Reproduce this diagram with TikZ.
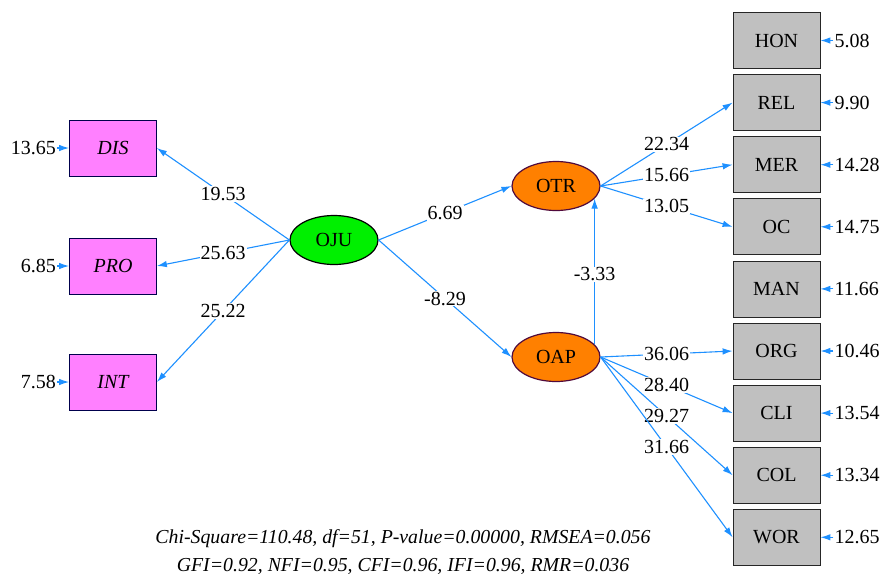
\documentclass[tikz,border=0pt]{standalone}
\usepackage{fontspec}
\setmainfont{Liberation Serif}
\usetikzlibrary{positioning, shapes.geometric, arrows.meta}

\definecolor{pathblue}{RGB}{30,144,255}
\definecolor{ojugreen}{RGB}{0,240,0}
\definecolor{latorange}{RGB}{255,128,0}
\definecolor{latborder}{RGB}{80,10,60}
\definecolor{obspink}{RGB}{255,128,255}
\definecolor{obsgray}{RGB}{192,192,192}

\begin{document}
\begin{tikzpicture}[
  x=1pt, y=-1pt,
  font=\fontsize{20}{22}\selectfont,
  latent/.style={ellipse, draw=latborder, line width=1.2pt, fill=latorange, minimum width=88pt, minimum height=49pt, inner sep=0pt},
  obs/.style={rectangle, draw=black!85, thick, fill=obsgray, minimum width=87pt, minimum height=56pt, inner sep=0pt},
  arrow/.style={-{Latex[length=10pt,width=6.5pt]}, pathblue, line width=1.1pt},
  coef/.style={fill=white, text=black, inner sep=1pt, pos=0.5},
  err/.style={inner sep=1pt}
]
\useasboundingbox (0,0) rectangle (884,579);

% latent variables
\node[latent, fill=ojugreen, draw=black] (OJU) at (334,240) {OJU};
\node[latent] (OTR) at (556,186) {OTR};
\node[latent] (OAP) at (556,357) {OAP};

% indicators of OJU
\node[obs, fill=obspink, draw=black!70!blue, font=\fontsize{20}{22}\selectfont\itshape] (DIS) at (113,148) {DIS};
\node[obs, fill=obspink, draw=black!70!blue, font=\fontsize{20}{22}\selectfont\itshape] (PRO) at (113,266) {PRO};
\node[obs, fill=obspink, draw=black!70!blue, font=\fontsize{20}{22}\selectfont\itshape] (INT) at (113,382) {INT};

% indicators on the right
\node[obs] (HON) at (776.5,40.5) {HON};
\node[obs, below=5.3pt of HON] (REL) {REL};
\node[obs, below=5.3pt of REL] (MER) {MER};
\node[obs, below=5.3pt of MER] (OC) {OC};
\node[obs, below=5.3pt of OC] (MAN) {MAN};
\node[obs, below=5.3pt of MAN] (ORG) {ORG};
\node[obs, below=5.3pt of ORG] (CLI) {CLI};
\node[obs, below=5.3pt of CLI] (COL) {COL};
\node[obs, below=5.3pt of COL] (WOR) {WOR};

% error variances
\node[err, left=12pt of DIS] (eDIS) {13.65};
\node[err, left=12pt of PRO] (ePRO) {6.85};
\node[err, left=12pt of INT] (eINT) {7.58};
\node[err, right=13pt of HON] (eHON) {5.08};
\node[err, right=13pt of REL] (eREL) {9.90};
\node[err, right=13pt of MER] (eMER) {14.28};
\node[err, right=13pt of OC] (eOC) {14.75};
\node[err, right=13pt of MAN] (eMAN) {11.66};
\node[err, right=13pt of ORG] (eORG) {10.46};
\node[err, right=13pt of CLI] (eCLI) {13.54};
\node[err, right=13pt of COL] (eCOL) {13.34};
\node[err, right=13pt of WOR] (eWOR) {12.65};

\draw[arrow] (eDIS) -- (DIS);
\draw[arrow] (ePRO) -- (PRO);
\draw[arrow] (eINT) -- (INT);
\draw[arrow] (eHON) -- (HON);
\draw[arrow] (eREL) -- (REL);
\draw[arrow] (eMER) -- (MER);
\draw[arrow] (eOC) -- (OC);
\draw[arrow] (eMAN) -- (MAN);
\draw[arrow] (eORG) -- (ORG);
\draw[arrow] (eCLI) -- (CLI);
\draw[arrow] (eCOL) -- (COL);
\draw[arrow] (eWOR) -- (WOR);

% loadings and paths
\draw[arrow] (OJU.west) -- (DIS.east) node[coef] {19.53};
\draw[arrow] (OJU.west) -- (PRO.east) node[coef] {25.63};
\draw[arrow] (OJU.west) -- (INT.east) node[coef] {25.22};
\draw[arrow] (OJU.east) -- (OTR.west) node[coef] {6.69};
\draw[arrow] (OJU.east) -- (OAP.west) node[coef] {-8.29};
\draw[arrow] (OAP.18) -- (OAP.18 |- OTR.-18) node[coef, pos=0.48] {-3.33};
\draw[arrow] (OTR.east) -- (REL.west) node[coef] {22.34};
\draw[arrow] (OTR.east) -- (MER.west) node[coef] {15.66};
\draw[arrow] (OTR.east) -- (OC.west) node[coef] {13.05};
\draw[arrow] (OAP.east) -- (ORG.west) node[coef] {36.06};
\draw[arrow] (OAP.east) -- (CLI.west) node[coef] {28.40};
\draw[arrow] (OAP.east) -- (COL.west) node[coef] {29.27};
\draw[arrow] (OAP.east) -- (WOR.west) node[coef] {31.66};

% fit statistics
\node[font=\fontsize{19.8}{28}\selectfont\itshape, align=center] (fit) at (403,552)
  {Chi-Square=110.48, df=51, P-value=0.00000, RMSEA=0.056\\GFI=0.92, NFI=0.95, CFI=0.96, IFI=0.96, RMR=0.036};

\end{tikzpicture}
\end{document}
